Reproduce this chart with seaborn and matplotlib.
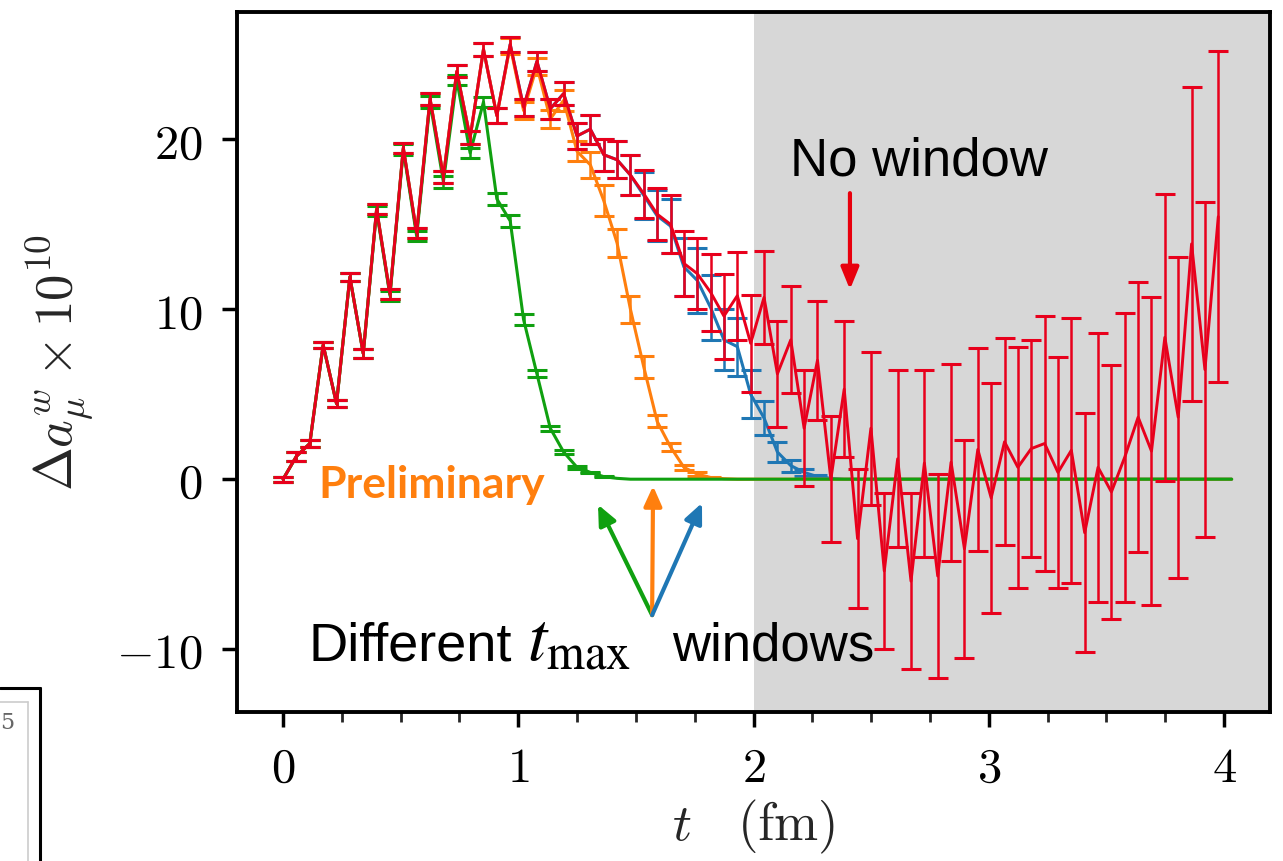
import numpy as np
import pandas as pd
import matplotlib
matplotlib.use("Agg")
import matplotlib.pyplot as plt
from matplotlib.lines import Line2D
import seaborn as sns

# ---------------- data ----------------
a_step = 0.0568  # lattice time step (fm)

red_val = [0.0, 1.35, 2.1, 7.9, 4.45, 11.9, 7.4, 15.9, 10.9, 19.5,
           14.5, 22.4, 17.8, 24.0, 20.1, 25.3, 21.4, 25.6, 21.9, 24.6,
           21.8, 22.7, 20.2, 20.6, 19.1, 18.8, 17.9, 16.8, 15.6, 15.0,
           12.7, 12.1, 11.0, 9.6, 10.8, 8.0, 10.7, 6.2, 8.2, 3.0,
           7.0, 0.0, 5.3, -3.5, 3.0, -5.4, 1.2, -6.0, 0.95, -5.7,
           1.0, -4.1, 1.75, -1.1, 2.2, 0.7, 1.8, 2.1, 0.4, 1.7,
           -3.15, 0.7, -0.75, 1.3, 3.65, 1.65, 8.35, 3.65, 13.85, 6.45,
           15.45]
red_err = [0.15, 0.25, 0.2, 0.2, 0.2, 0.25, 0.25, 0.3, 0.3, 0.3,
           0.3, 0.35, 0.35, 0.35, 0.4, 0.4, 0.45, 0.45, 0.5, 0.55,
           0.6, 0.7, 0.75, 0.85, 0.95, 1.1, 1.2, 1.4, 1.55, 1.7,
           1.9, 2.1, 2.25, 2.5, 2.6, 2.85, 2.75, 3.1, 3.15, 3.4,
           3.5, 3.7, 4.0, 4.1, 4.5, 4.6, 5.2, 5.2, 5.5, 6.0,
           5.8, 6.4, 6.0, 6.75, 6.1, 7.1, 6.4, 7.5, 6.8, 7.8,
           7.05, 7.9, 7.45, 8.5, 7.95, 9.05, 8.45, 9.45, 9.25, 9.85,
           9.75]

green_val = [0.0, 1.35, 2.1, 7.9, 4.45, 11.9, 7.4, 15.8, 10.8, 19.4,
             14.3, 22.2, 17.5, 23.5, 19.2, 22.2, 16.5, 15.2, 9.4, 6.2,
             3.0, 1.6, 0.7, 0.4, 0.15, 0.05, 0.0, 0.0, 0.0, 0.0,
             0.0, 0.0, 0.0, 0.0, 0.0, 0.0, 0.0, 0.0, 0.0, 0.0,
             0.0, 0.0, 0.0, 0.0, 0.0, 0.0, 0.0, 0.0, 0.0, 0.0,
             0.0, 0.0, 0.0, 0.0, 0.0, 0.0, 0.0, 0.0, 0.0, 0.0,
             0.0, 0.0, 0.0, 0.0, 0.0, 0.0, 0.0, 0.0, 0.0, 0.0,
             0.0, 0.0]
green_err = [0.15, 0.25, 0.2, 0.2, 0.2, 0.25, 0.25, 0.3, 0.3, 0.3,
             0.3, 0.35, 0.35, 0.3, 0.3, 0.3, 0.35, 0.35, 0.3, 0.2,
             0.15, 0.1, 0.08, 0.05, 0.03, 0.0]

orange_val = [0.0, 1.35, 2.1, 7.9, 4.45, 11.9, 7.4, 15.9, 10.9, 19.5,
              14.5, 22.4, 17.8, 24.0, 20.1, 25.3, 21.4, 25.5, 21.7, 24.3,
              21.2, 22.3, 19.3, 18.5, 16.4, 13.9, 10.0, 6.6, 3.4, 1.9,
              0.7, 0.3, 0.1, 0.03, 0.0, 0.0, 0.0, 0.0, 0.0, 0.0,
              0.0, 0.0, 0.0, 0.0, 0.0, 0.0, 0.0, 0.0, 0.0, 0.0,
              0.0, 0.0, 0.0, 0.0, 0.0, 0.0, 0.0, 0.0, 0.0, 0.0,
              0.0, 0.0, 0.0, 0.0, 0.0, 0.0, 0.0, 0.0, 0.0, 0.0,
              0.0, 0.0]
orange_err = [0.15, 0.25, 0.2, 0.2, 0.2, 0.25, 0.25, 0.3, 0.3, 0.3,
              0.3, 0.35, 0.35, 0.35, 0.4, 0.4, 0.45, 0.45, 0.5, 0.5,
              0.55, 0.6, 0.6, 0.75, 0.93, 0.83, 0.78, 0.64, 0.35, 0.25,
              0.15, 0.1, 0.05, 0.0]

blue_val = [0.0, 1.35, 2.1, 7.9, 4.45, 11.9, 7.4, 15.9, 10.9, 19.5,
            14.5, 22.4, 17.8, 24.0, 20.1, 25.3, 21.4, 25.6, 21.9, 24.6,
            21.8, 22.7, 20.2, 20.6, 19.1, 18.8, 17.9, 16.7, 15.5, 14.9,
            12.5, 11.7, 10.1, 8.2, 7.8, 5.0, 3.6, 1.6, 0.8, 0.4,
            0.15, 0.05, 0.0, 0.0, 0.0, 0.0, 0.0, 0.0, 0.0, 0.0,
            0.0, 0.0, 0.0, 0.0, 0.0, 0.0, 0.0, 0.0, 0.0, 0.0,
            0.0, 0.0, 0.0, 0.0, 0.0, 0.0, 0.0, 0.0, 0.0, 0.0,
            0.0, 0.0]
blue_err = [0.15, 0.25, 0.2, 0.2, 0.2, 0.25, 0.25, 0.3, 0.3, 0.3,
            0.3, 0.35, 0.35, 0.35, 0.4, 0.4, 0.45, 0.45, 0.5, 0.55,
            0.6, 0.7, 0.75, 0.85, 0.95, 1.1, 1.2, 1.4, 1.5, 1.6,
            1.7, 1.9, 1.9, 1.8, 1.7, 1.4, 1.0, 0.6, 0.35, 0.2,
            0.1, 0.0]

x_ticks = [0, 1, 2, 3, 4]
x_ticklabels = ["$0$", "$1$", "$2$", "$3$", "$4$"]
y_ticks = [-10, 0, 10, 20]
y_ticklabels = ["$-10$", "$0$", "$10$", "$20$"]

# ---------------- style ----------------
RED = "#e8001c"
GREEN = "#10a010"
ORANGE = "#ff7f0e"
BLUE = "#1f77b4"
GRAY = "#d7d7d7"

sns.set_theme(style="ticks")
plt.rcParams["font.family"] = ["DejaVu Sans"]
plt.rcParams["mathtext.fontset"] = "cm"

fig = plt.figure(figsize=(12.83, 8.61), dpi=100)
ax = fig.add_axes([0.1847, 0.1731, 0.8052, 0.8130])

ax.axvspan(2.0, 4.3, color=GRAY, lw=0, zorder=0)


def draw(vals, errs, color, z, lw=2.2):
    t = np.arange(len(vals)) * a_step
    df = pd.DataFrame({"t": t, "v": vals})
    sns.lineplot(data=df, x="t", y="v", ax=ax, color=color, lw=lw,
                 sort=False, estimator=None, zorder=z)
    n = len(errs)
    e = np.array(errs)
    m = e > 0
    ax.errorbar(t[:n][m], np.array(vals[:n])[m], yerr=e[m], fmt="none",
                ecolor=color, elinewidth=1.8, capsize=7.5, capthick=2.2,
                zorder=z)


draw(blue_val, blue_err, BLUE, 2)
draw(orange_val, orange_err, ORANGE, 3)
draw(green_val, green_err, GREEN, 4)
draw(red_val, red_err, RED, 5, lw=2.1)

ax.set_xlim(-0.196, 4.196)
ax.set_ylim(-13.7, 27.5)

ax.set_xticks(x_ticks)
ax.set_xticklabels(x_ticklabels)
ax.set_xticks(np.arange(0, 4.01, 0.25), minor=True)
ax.set_yticks(y_ticks)
ax.set_yticklabels(y_ticklabels)
ax.tick_params(axis="both", which="major", direction="out", length=11,
               width=2.5, labelsize=35, colors="black")
ax.tick_params(axis="x", which="major", pad=12)
ax.tick_params(axis="y", which="major", pad=14)
ax.tick_params(axis="x", which="minor", direction="out", length=7,
               width=2.0)
for s in ax.spines.values():
    s.set_linewidth(2.8)
    s.set_color("black")

ax.set_xlabel(r"$t\quad(\mathrm{fm})$", fontsize=38, labelpad=4)
ax.set_ylabel(r"$\Delta a_\mu^w\times10^{10}$", fontsize=38, labelpad=14)

# ---------------- annotations ----------------
ax.text(2.704, 17.9, "No window", fontsize=38, family="Liberation Sans",
        ha="center", va="baseline", color="black", zorder=10)
ax.annotate("", xy=(2.41, 11.0), xytext=(2.41, 17.0),
            arrowprops=dict(arrowstyle="-|>,head_width=0.45,head_length=1.1",
                            color="#e8000d", lw=3), zorder=10)

ax.text(0.15, -1.1, "Preliminary", fontsize=32, family="Lato",
        fontweight="bold", color=ORANGE, ha="left", va="baseline", zorder=10)

ax.text(0.106, -10.65, "Different", fontsize=39, family="Liberation Sans",
        ha="left", va="baseline", color="black", zorder=10)
ax.text(1.035, -10.65, r"$t_{\mathrm{max}}$", fontsize=50,
        math_fontfamily="stix", ha="left", va="baseline", color="black",
        zorder=10)
ax.text(1.654, -10.65, "windows", fontsize=38, family="Liberation Sans",
        ha="left", va="baseline", color="black", zorder=10)

origin = (1.569, -8.0)
for tip, col in [((1.339, -1.5), GREEN), ((1.573, -0.4), ORANGE),
                 ((1.781, -1.4), BLUE)]:
    ax.annotate("", xy=tip, xytext=origin,
                arrowprops=dict(arrowstyle="-|>,head_width=0.45,head_length=1.0",
                                color=col, lw=3, shrinkA=0, shrinkB=0),
                zorder=10)

# leftover frame fragment at bottom left of the screenshot
fig.add_artist(Line2D([0.0, 0.031], [0.201, 0.201], color="black", lw=2.2,
                      transform=fig.transFigure))
fig.add_artist(Line2D([0.031, 0.031], [0.0, 0.201], color="black", lw=2.2,
                      transform=fig.transFigure))
fig.add_artist(Line2D([0.0, 0.022], [0.185, 0.185], color="#cccccc", lw=1.2,
                      transform=fig.transFigure))
fig.add_artist(Line2D([0.022, 0.022], [0.0, 0.185], color="#cccccc", lw=1.2,
                      transform=fig.transFigure))
fig.text(0.0, 0.16, "5", fontsize=16, color="#666666", family="DejaVu Serif",
         ha="left", va="center")

fig.savefig("out.png", dpi=100)
